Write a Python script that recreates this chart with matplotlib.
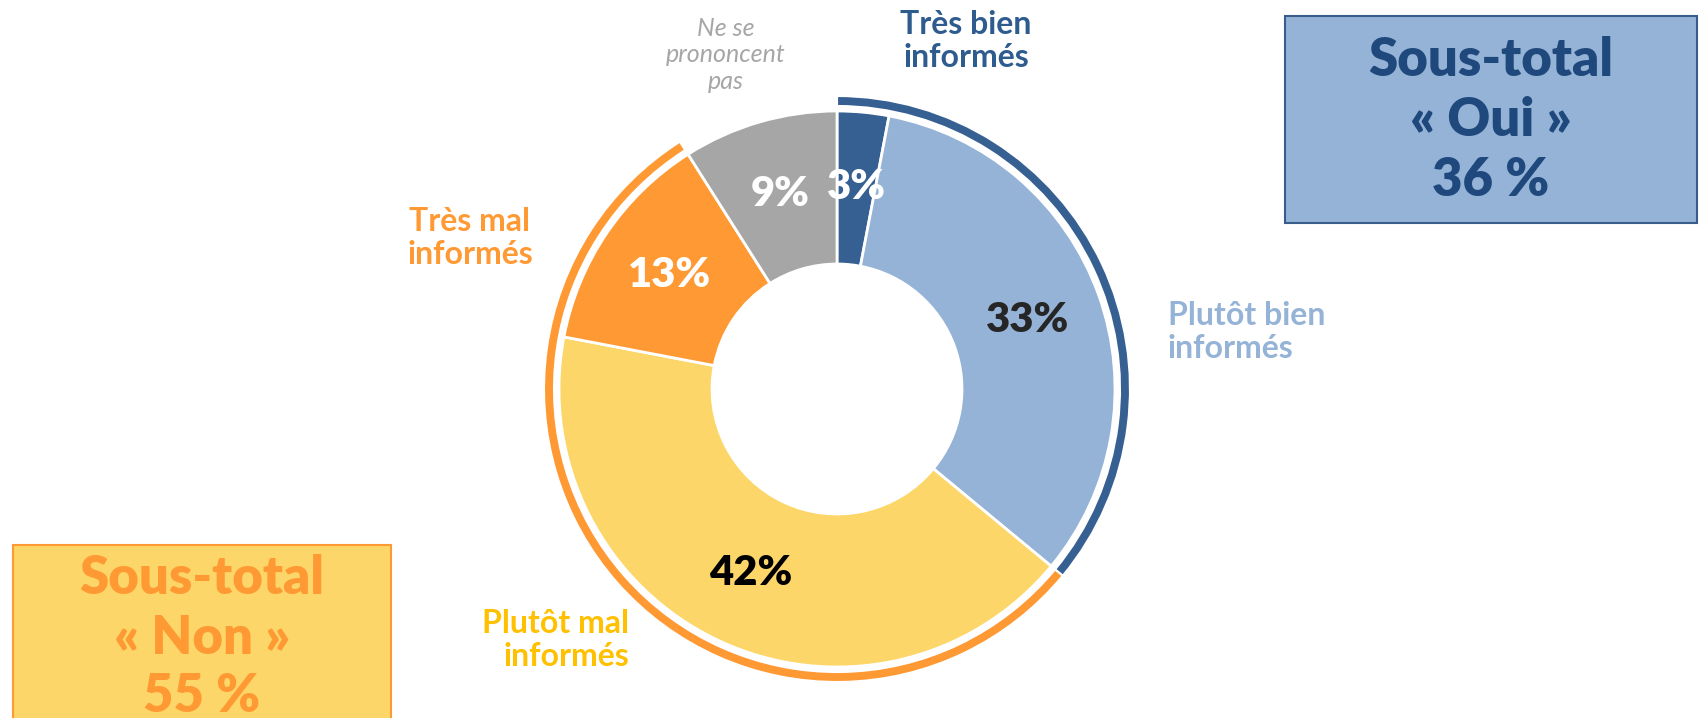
import matplotlib
matplotlib.use("Agg")
import matplotlib.pyplot as plt
from matplotlib.patches import Rectangle

# --- data ---
categories = ["Très bien\ninformés", "Plutôt bien\ninformés", "Plutôt mal\ninformés",
              "Très mal\ninformés", "Ne se\nprononcent\npas"]
values = [3, 33, 42, 13, 9]
groups = ["Oui", "Non", "NSP"]
group_values = [values[0] + values[1], values[2] + values[3], values[4]]

SLICE_COL = ["#376092", "#95B3D7", "#FCD668", "#FF9933", "#A6A6A6"]
PCT_COL = ["white", "#262626", "black", "white", "white"]
LABEL_COL = ["#2F5C8F", "#95B3D7", "#FFC000", "#FF9933", "#A6A6A6"]
ARC_COL = ["#376092", "#FF9933", "none"]

plt.rcParams["font.family"] = ["Lato", "DejaVu Sans"]

W, H = 1700, 718
fig = plt.figure(figsize=(W / 100, H / 100), dpi=100)
ax = fig.add_axes([0, 0, 1, 1])

cx, cy, R = 837, H - 389, 278

# main donut
wedges, _, pcts = ax.pie(values, radius=R, center=(cx, cy), startangle=90,
                         counterclock=False, colors=SLICE_COL,
                         autopct="%d%%", pctdistance=0.73,
                         wedgeprops=dict(width=153, edgecolor="white", linewidth=2))
for t, c in zip(pcts, PCT_COL):
    t.set_color(c)
    t.set_fontsize(30)
    t.set_fontweight("heavy")

# outer sub-total arcs
ax.pie(group_values, radius=293, center=(cx, cy), startangle=90,
       counterclock=False, colors=ARC_COL,
       wedgeprops=dict(width=10, edgecolor="white", linewidth=1.5))

ax.set_xlim(0, W)
ax.set_ylim(0, H)
ax.set_aspect("equal")
ax.axis("off")

# category labels
ax.text(966, H - 41, categories[0], color=LABEL_COL[0], fontsize=23, fontweight="bold",
        ha="center", va="center", linespacing=1.15)
ax.text(1168, H - 332, categories[1], color=LABEL_COL[1], fontsize=23, fontweight="bold",
        ha="left", va="center", linespacing=1.15)
ax.text(629, H - 640, categories[2], color=LABEL_COL[2], fontsize=23, fontweight="bold",
        ha="right", va="center", linespacing=1.15)
ax.text(470, H - 238, categories[3], color=LABEL_COL[3], fontsize=23, fontweight="bold",
        ha="center", va="center", linespacing=1.15)
ax.text(726, H - 55, categories[4], color=LABEL_COL[4], fontsize=18, style="italic",
        fontweight="normal", ha="center", va="center", linespacing=1.2)

# sub-total boxes
ax.add_patch(Rectangle((1285, H - 223), 412, 207, facecolor="#95B3D7",
                       edgecolor="#385D8A", linewidth=1.5, zorder=3))
oui_lines = ["Sous-total", "« %s »" % groups[0], "%d %%" % group_values[0]]
for i, s in enumerate(oui_lines):
    ax.text(1491, H - (60 + 60 * i), s, color="#1F497D", fontsize=38, fontweight="heavy",
            ha="center", va="center", zorder=4)

ax.add_patch(Rectangle((13, H - 760), 378, 215, facecolor="#FCD668",
                       edgecolor="#FF9933", linewidth=1.5, zorder=3, clip_on=True))
non_lines = ["Sous-total", "« %s »" % groups[1], "%d %%" % group_values[1]]
for i, s in enumerate(non_lines):
    ax.text(202, H - (579 + 59 * i), s, color="#FF9933", fontsize=38, fontweight="heavy",
            ha="center", va="center", zorder=4)

fig.savefig("out.png", dpi=100)
plt.close(fig)
